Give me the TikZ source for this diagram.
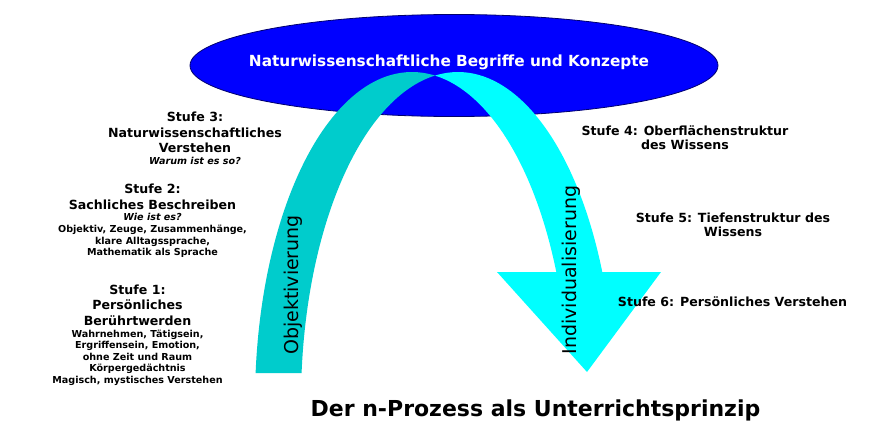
\documentclass[tikz,border=0pt]{standalone}
\usepackage{fontspec}
\setmainfont{DejaVu Sans}
\usetikzlibrary{positioning, shapes.geometric}

\definecolor{ovalblau}{RGB}{0,0,255}
\definecolor{ovalrand}{RGB}{0,0,110}
\definecolor{bandhinten}{RGB}{0,204,204}
\definecolor{bandvorne}{RGB}{0,255,255}

\begin{document}
\begin{tikzpicture}[x=1pt, y=-1pt,
		stufe/.style={font=\bfseries\fontsize{12.6}{15.5}\selectfont, align=center, inner sep=0pt, anchor=base},
		rechts/.style={stufe, font=\bfseries\fontsize{12.6}{13.8}\selectfont},
		detail/.style={font=\bfseries\fontsize{9.6}{11.6}\selectfont, align=center, inner sep=0pt},
		band/.style={font=\fontsize{19}{22}\selectfont, rotate=90, anchor=base, inner sep=0pt},
		bogen/.style={x radius=157, y radius=330}]

				\fill[white] (0,0) rectangle (873,431);
				\useasboundingbox (0,0) rectangle (873,431);

				\node [ellipse, fill=ovalblau, draw=ovalrand, line width=.8pt, minimum width=528pt, minimum height=102pt, inner sep=0pt] (oval) at (454,65.5) {};

				\fill[bandhinten] (255.6,373) arc[bogen, start angle=185.04, end angle=278.42]
						arc[bogen, start angle=261.58, end angle=185.04] -- cycle;
				\fill[bandvorne] (435,75.6) arc[bogen, start angle=261.58, end angle=336.8]
						-- (661,272) -- (587,372) -- (497,272) -- (556.3,272)
						arc[bogen, start angle=336.8, end angle=278.42] -- cycle;

				\node [font=\bfseries\fontsize{15.3}{18}\selectfont, text=white, anchor=base] (begriffe) at (449,66.7) {Naturwissenschaftliche Begriffe und Konzepte};

				\node [stufe]	(s3)	at (195,152.7)	{Stufe 3:\\Naturwissenschaftliches\\Verstehen};
				\node [detail]	(s3t)	[below=4pt of s3]	{\itshape Warum ist es so?};
				\node [stufe]	(s2)	at (152.5,209)	{Stufe 2:\\Sachliches Beschreiben};
				\node [detail]	(s2t)	[below=4pt of s2]	{{\itshape Wie ist es?}\\Objektiv, Zeuge, Zusammenhänge,\\klare Alltagssprache,\\Mathematik als Sprache};
				\node [stufe]	(s1)	at (137.5,325)	{Stufe 1:\\Persönliches\\Berührtwerden};
				\node [detail]	(s1t)	[below=4pt of s1]	{Wahrnehmen, Tätigsein,\\Ergriffensein, Emotion,\\ohne Zeit und Raum\\Körpergedächtnis\\Magisch, mystisches Verstehen};

				\node [rechts]	(s4)	at (685,149.3)	{Stufe 4: Oberflächenstruktur\\des Wissens};
				\node [rechts]	(s5)	at (733,236)	{Stufe 5: Tiefenstruktur des\\Wissens};
				\node [rechts]	(s6)	at (732.5,306.7)	{Stufe 6: Persönliches Verstehen};

				\node [band]	(obj)	at (298,285)	{Objektivierung};
				\node [band]	(ind)	at (576,270)	{Individualisierung};

				\node [font=\bfseries\fontsize{22}{26}\selectfont, anchor=base] (prinzip) at (535.5,416.7) {Der n-Prozess als Unterrichtsprinzip};

\end{tikzpicture}
\end{document}
